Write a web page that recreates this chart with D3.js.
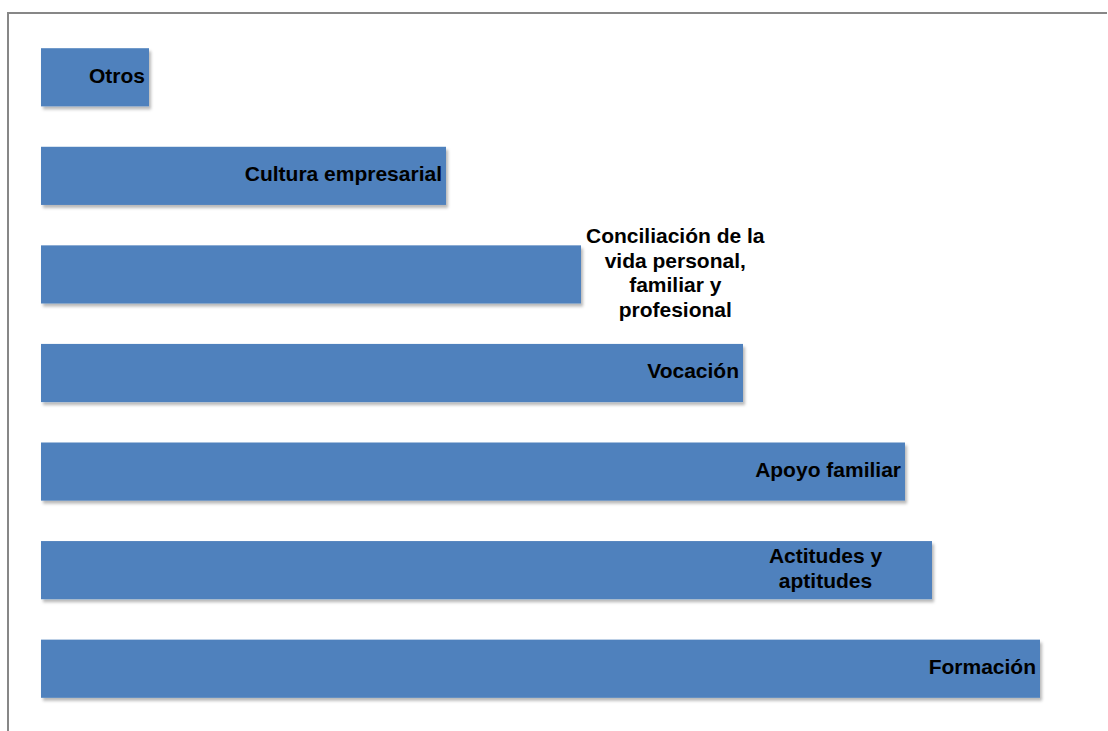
<!DOCTYPE html>
<html>
<head>
<meta charset="utf-8">
<script src="https://cdn.jsdelivr.net/npm/d3@7"></script>
<style>
	html, body { margin: 0; padding: 0; background: #fff; }
	#chart { width: 1108px; height: 731px; }
</style>
</head>
<body>
<div id="chart"></div>
<script>
// categories from top to bottom
const categories = [
	"Otros",
	"Cultura empresarial",
	"Conciliación de la vida personal, familiar y profesional",
	"Vocación",
	"Apoyo familiar",
	"Actitudes y aptitudes",
	"Formación"
];
const values = [4, 15, 20, 26, 32, 33, 37];

const data = categories.map((c, i) => ({name: c, value: values[i]}));

function initBarChart(data) {
	const width = 1108, height = 731;

	const svg = d3.select("#chart")
		.append("svg")
			.attr("width", width)
			.attr("height", height)
			.style("display", "block");

	svg.append("rect")
		.attr("width", width)
		.attr("height", height)
		.attr("fill", "#fff");

	// soft shadow under the bars
	const defs = svg.append("defs");
	defs.append("filter")
			.attr("id", "shadow")
			.attr("x", "-5%").attr("y", "-20%")
			.attr("width", "110%").attr("height", "150%")
		.append("feDropShadow")
			.attr("dx", 2)
			.attr("dy", 3)
			.attr("stdDeviation", 1.4)
			.attr("flood-color", "#000")
			.attr("flood-opacity", 0.28);

	// chart frame (top + left only)
	svg.append("path")
		.attr("d", `M8,731V13H1107`)
		.attr("fill", "none")
		.attr("stroke", "#878787")
		.attr("stroke-width", 2);

	const x = d3.scaleLinear()
		.domain([0, 37])
		.range([41, 1040]);

	const y = d3.scaleBand()
		.domain(data.map(d => d.name))
		.range([28, 718])
		.paddingInner(0.41)
		.paddingOuter(0.205);

	svg.append("g")
		.selectAll("rect")
		.data(data)
		.join("rect")
			.attr("x", x(0))
			.attr("y", d => y(d.name))
			.attr("width", d => x(d.value) - x(0))
			.attr("height", y.bandwidth())
			.attr("fill", "#4F81BD")
			.attr("filter", "url(#shadow)");

	// data labels, wrapped like the spreadsheet does
	const wrapWidth = 205, lineHeight = 24.5;
	const labels = svg.append("g")
		.attr("font-family", "'Liberation Sans', Arial, sans-serif")
		.attr("font-weight", "bold")
		.attr("font-size", 21)
		.attr("fill", "#000")
		.selectAll("text")
		.data(data)
		.join("text")
			.attr("text-anchor", "middle");

	labels.each(function(d) {
		const text = d3.select(this);
		const words = d.name.split(" ");
		let lines = [], line = [];
		const probe = text.append("tspan");
		words.forEach(w => {
			const test = line.concat(w).join(" ");
			probe.text(test);
			if (line.length && probe.node().getComputedTextLength() > wrapWidth) {
				lines.push(line.join(" "));
				line = [w];
			} else {
				line.push(w);
			}
		});
		lines.push(line.join(" "));
		let blockW = 0;
		lines.forEach(l => {
			probe.text(l);
			blockW = Math.max(blockW, probe.node().getComputedTextLength());
		});
		probe.remove();

		const end = x(d.value);
		const blockH = lines.length * lineHeight;
		const cy = y(d.name) + y.bandwidth() / 2 - 2;
		let cx;
		if (blockH > y.bandwidth() || blockW + 8 > end - x(0)) {
			// outside end
			cx = end + 5 + blockW / 2;
		} else if (lines.length > 1) {
			cx = end - 4 - wrapWidth / 2;
		} else {
			cx = end - 4 - blockW / 2;
		}
		const y0 = cy - blockH / 2 + lineHeight / 2;
		lines.forEach((l, i) => {
			text.append("tspan")
				.attr("x", cx)
				.attr("y", y0 + i * lineHeight)
				.attr("dy", "0.35em")
				.text(l);
		});
	});
}

initBarChart(data);
</script>
</body>
</html>
